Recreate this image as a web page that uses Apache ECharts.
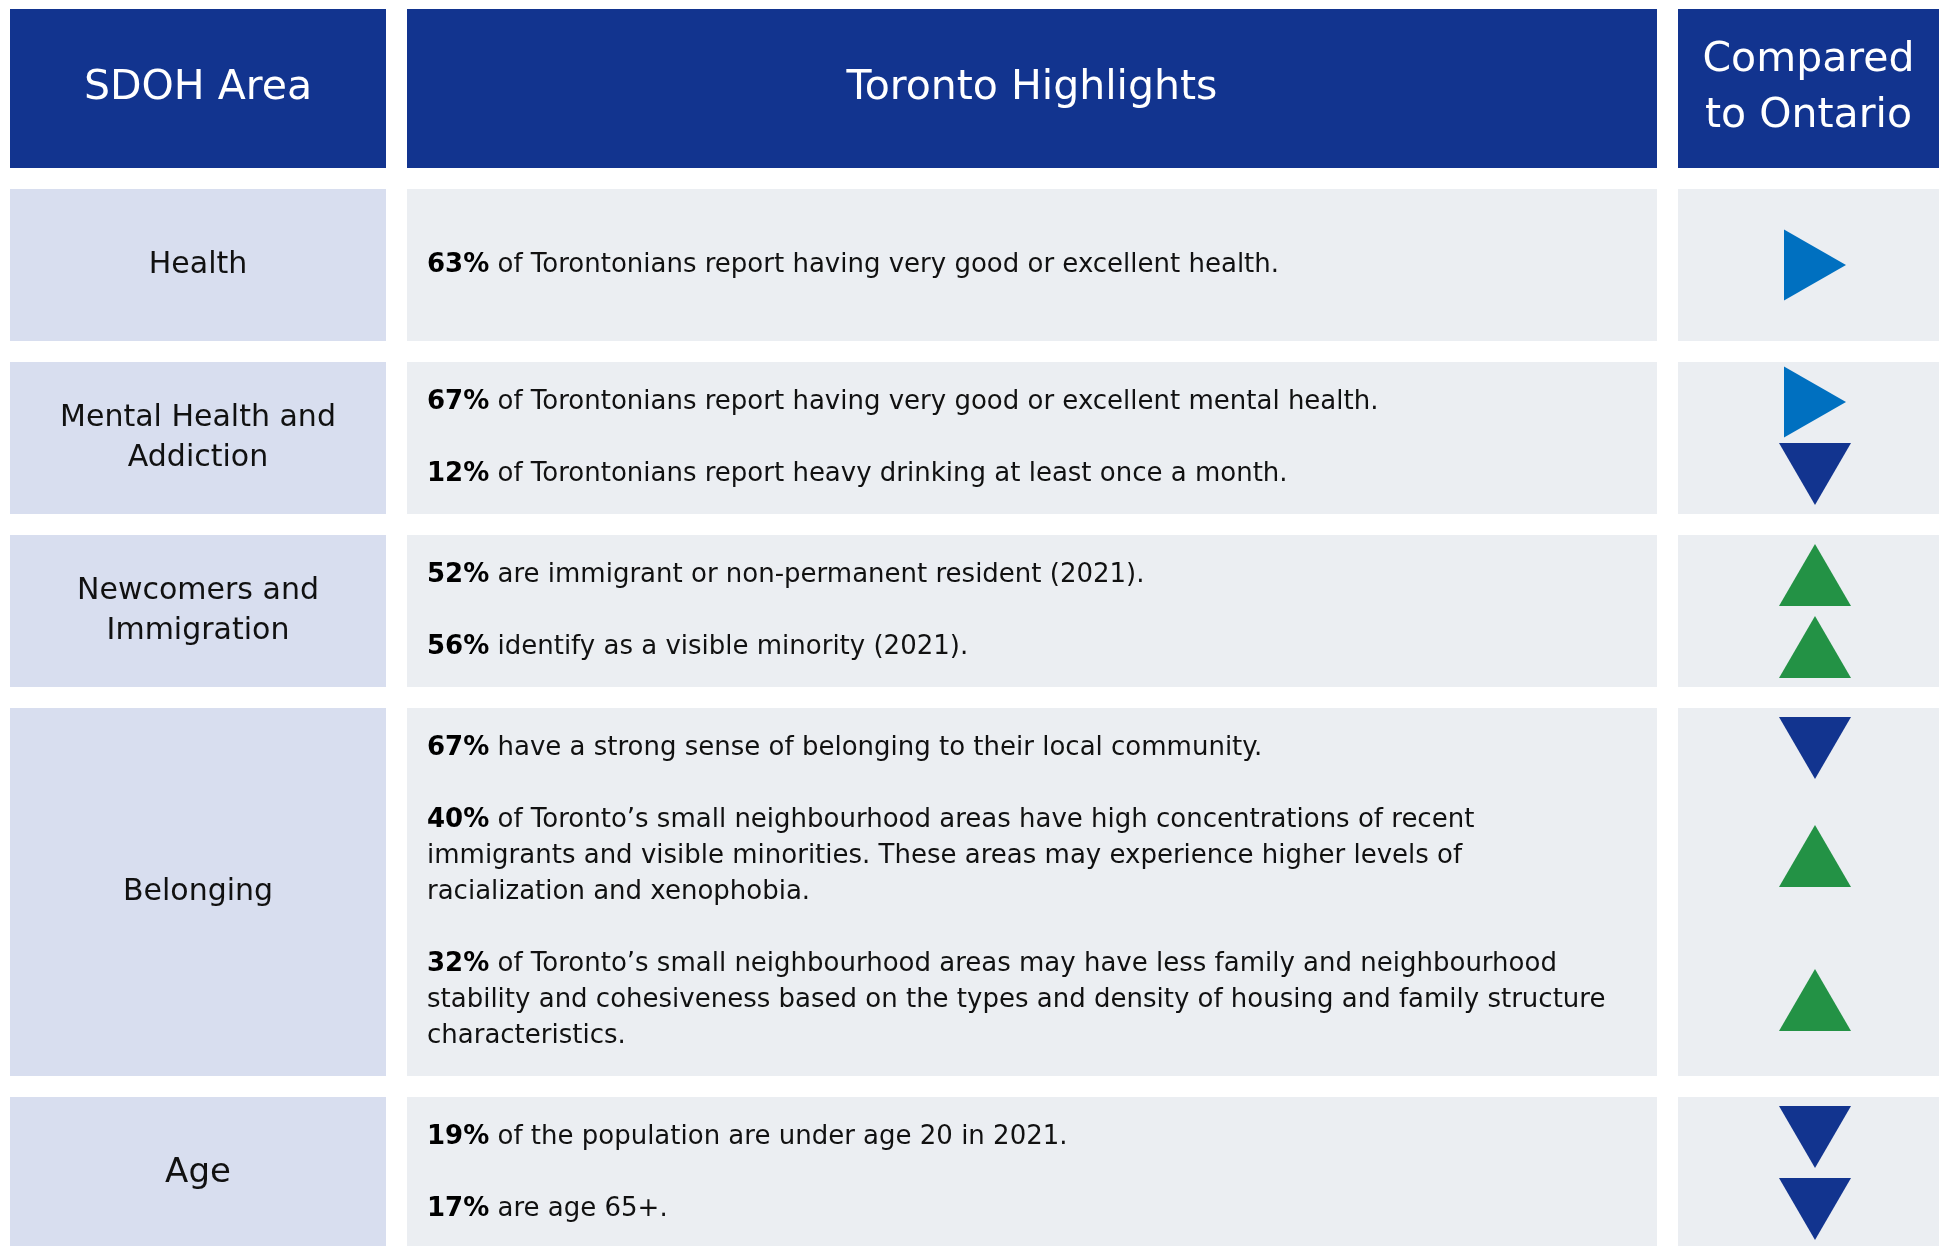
<!DOCTYPE html>
<html>
<head>
<meta charset="utf-8">
<script src="https://cdn.jsdelivr.net/npm/echarts@6/dist/echarts.min.js"></script>
<style>
  html, body { margin: 0; padding: 0; background: #fff; }
  #chart { width: 1946px; height: 1246px; }
</style>
</head>
<body>
<div id="chart"></div>
<script>
// ---- data ----
var headers = ['SDOH Area', 'Toronto Highlights', 'Compared\nto Ontario'];
var areas = ['Health', 'Mental Health and\nAddiction', 'Newcomers and\nImmigration', 'Belonging', 'Age'];
var pcts = [
    ['63%'],
    ['67%', '12%'],
    ['52%', '56%'],
    ['67%', '40%', '32%'],
    ['19%', '17%']
];
var statements = [
    [['of Torontonians report having very good or excellent health.']],
    [['of Torontonians report having very good or excellent mental health.'],
     ['of Torontonians report heavy drinking at least once a month.']],
    [['are immigrant or non-permanent resident (2021).'],
     ['identify as a visible minority (2021).']],
    [['have a strong sense of belonging to their local community.'],
     ['of Toronto\u2019s small neighbourhood areas have high concentrations of recent',
      'immigrants and visible minorities. These areas may experience higher levels of',
      'racialization and xenophobia.'],
     ['of Toronto\u2019s small neighbourhood areas may have less family and neighbourhood',
      'stability and cohesiveness based on the types and density of housing and family structure',
      'characteristics.']],
    [['of the population are under age 20 in 2021.'],
     ['are age 65+.']]
];
// compared to Ontario: up = higher, down = lower, right = similar
var trends = [
    ['right'],
    ['right', 'down'],
    ['up', 'up'],
    ['down', 'up', 'up'],
    ['down', 'down']
];

// ---- layout (pixel units on hidden value axes) ----
var W = 1946, H = 1246;
var FONT = '"DejaVu Sans", sans-serif';
var cols = [[10, 386], [407, 1657], [1678, 1939]];
var LINE = 36, GAP = 21, PAD = 44;
var headTop = 9, headBottom = 168;
var markX = 1815;

var cells = [];   // rectangles + text
var marks = [];   // triangles
var texts = [];   // body lines

headers.forEach(function (h, c) {
    cells.push({x0: cols[c][0], x1: cols[c][1], y0: headTop, y1: headBottom,
        fill: '#12348f', label: h, color: '#fff', size: 41, lh: 56});
});

var y = headBottom + GAP;
areas.forEach(function (area, r) {
    var paras = statements[r];
    var nLines = 0;
    paras.forEach(function (p, i) { nLines += p.length + (i > 0 ? 1 : 0); });
    var rowH = Math.max(nLines, 3) * LINE + PAD;
    var y0 = y, y1 = y + rowH;
    cells.push({x0: cols[0][0], x1: cols[0][1], y0: y0, y1: y1, fill: '#d8deef',
        label: area, color: '#111', size: area === 'Age' ? 34 : 30, lh: 40});
    cells.push({x0: cols[1][0], x1: cols[1][1], y0: y0, y1: y1, fill: '#ebeef2'});
    cells.push({x0: cols[2][0], x1: cols[2][1], y0: y0, y1: y1, fill: '#ebeef2'});

    var ly = (y0 + y1) / 2 - (nLines - 1) * LINE / 2;
    paras.forEach(function (p, i) {
        if (i > 0) ly += LINE;
        var first = ly;
        p.forEach(function (line, k) {
            texts.push({y: ly, bold: k === 0 ? pcts[r][i] : '', text: line});
            ly += LINE;
        });
        var mid = (first + ly - LINE) / 2;
        marks.push({dir: trends[r][i], y: mid});
    });
    y = y1 + GAP;
});

var symbols = {
    right: {path: 'path://M0,0L10,5L0,10Z', size: [62, 71], color: '#0070c0'},
    down: {path: 'path://M0,0L10,0L5,10Z', size: [72, 62], color: '#12348f'},
    up: {path: 'path://M5,0L10,10L0,10Z', size: [72, 62], color: '#239245'}
};

var chart = echarts.init(document.getElementById('chart'));
chart.setOption({
    animation: false,
    grid: {left: 0, right: 0, top: 0, bottom: 0},
    xAxis: {type: 'value', min: 0, max: W, show: false},
    yAxis: {type: 'value', min: 0, max: H, inverse: true, show: false},
    series: [
        {
            type: 'custom',
            data: cells.map(function (c) { return [c.x0, c.y0, c.x1, c.y1]; }),
            renderItem: function (params, api) {
                var c = cells[params.dataIndex];
                var p0 = api.coord([api.value(0), api.value(1)]);
                var p1 = api.coord([api.value(2), api.value(3)]);
                var children = [{
                    type: 'rect',
                    shape: {x: p0[0], y: p0[1], width: p1[0] - p0[0], height: p1[1] - p0[1]},
                    style: {fill: c.fill}
                }];
                if (c.label) {
                    children.push({
                        type: 'text',
                        style: {
                            x: (p0[0] + p1[0]) / 2, y: (p0[1] + p1[1]) / 2,
                            text: c.label, fill: c.color,
                            font: c.size + 'px ' + FONT,
                            lineHeight: c.lh,
                            align: 'center', verticalAlign: 'middle'
                        }
                    });
                }
                return {type: 'group', children: children};
            }
        },
        {
            type: 'custom',
            data: texts.map(function (t) { return [cols[1][0] + 20, t.y]; }),
            renderItem: function (params, api) {
                var t = texts[params.dataIndex];
                var p = api.coord([api.value(0), api.value(1)]);
                return {
                    type: 'text',
                    style: {
                        x: p[0], y: p[1],
                        text: (t.bold ? '{b|' + t.bold + '} ' : '') + t.text,
                        fill: '#111',
                        font: '26px ' + FONT,
                        align: 'left', verticalAlign: 'middle',
                        rich: {b: {fontFamily: FONT, fontSize: 26, fontWeight: 'bold', fill: '#000'}}
                    }
                };
            }
        },
        {
            type: 'scatter',
            data: marks.map(function (m) {
                var s = symbols[m.dir];
                return {value: [markX, m.y], symbol: s.path, symbolSize: s.size,
                    itemStyle: {color: s.color, opacity: 1}};
            })
        }
    ]
});
</script>
</body>
</html>
